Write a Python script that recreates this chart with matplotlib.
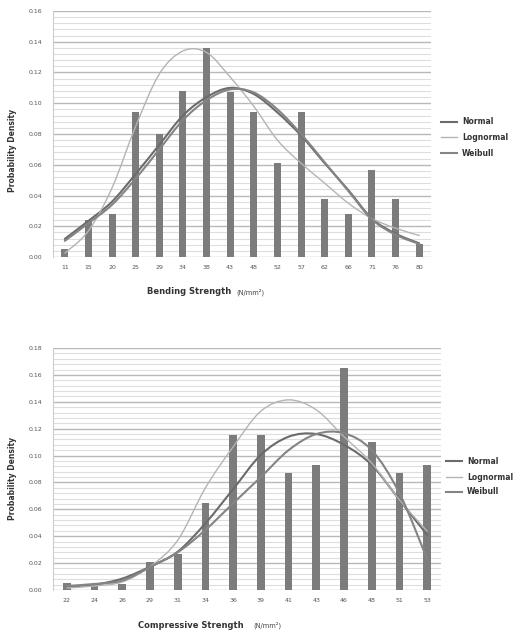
import matplotlib
matplotlib.use("Agg")
import matplotlib.pyplot as plt
from matplotlib.path import Path
from matplotlib.patches import PathPatch
from matplotlib.lines import Line2D
from matplotlib.ticker import MultipleLocator
import numpy as np

# ---------------- data ----------------
bend_cats = ["11", "15", "20", "25", "29", "34", "38", "43", "48", "52", "57", "62", "66", "71", "76", "80"]
bend_obs = [0.0055, 0.024, 0.028, 0.094, 0.080, 0.108, 0.136, 0.1075, 0.094, 0.061, 0.094, 0.0375, 0.028, 0.0565, 0.0375, 0.0087]
bend_normal = [0.0118, 0.0235, 0.036, 0.054, 0.073, 0.092, 0.104, 0.110, 0.106, 0.094, 0.079, 0.061, 0.0435, 0.025, 0.0152, 0.0089]
bend_lognormal = [0.0025, 0.017, 0.045, 0.085, 0.119, 0.134, 0.133, 0.117, 0.098, 0.076, 0.061, 0.048, 0.035, 0.025, 0.0187, 0.014]
bend_weibull = [0.0105, 0.022, 0.034, 0.051, 0.070, 0.089, 0.102, 0.109, 0.107, 0.096, 0.080, 0.0615, 0.043, 0.0245, 0.0145, 0.0085]

comp_cats = ["22", "24", "26", "29", "31", "34", "36", "39", "41", "43", "46", "48", "51", "53"]
comp_obs = [0.005, 0.0045, 0.0043, 0.021, 0.0265, 0.065, 0.1155, 0.1155, 0.0873, 0.093, 0.165, 0.110, 0.0873, 0.093]
comp_normal = [0.0025, 0.004, 0.0085, 0.0174, 0.0285, 0.0496, 0.075, 0.1005, 0.114, 0.116, 0.108, 0.093, 0.067, 0.041]
comp_lognormal = [0.0015, 0.003, 0.006, 0.0174, 0.037, 0.076, 0.1065, 0.133, 0.1414, 0.134, 0.114, 0.0943, 0.067, 0.0437]
comp_weibull = [0.003, 0.0045, 0.007, 0.017, 0.028, 0.0447, 0.0645, 0.084, 0.104, 0.116, 0.1166, 0.104, 0.072, 0.023]

series_names = ["Normal", "Lognormal", "Weibull"]
series_colors = ["#6b6b6b", "#b4b4b4", "#848484"]
series_widths = [1.5, 1.0, 1.5]
bar_color = "#7c7c7c"

def smooth_path(ys):
    xs = np.arange(len(ys), dtype=float)
    ys = np.asarray(ys, dtype=float)
    pts = np.column_stack([xs, ys])
    verts = [pts[0]]
    codes = [Path.MOVETO]
    n = len(pts)
    for i in range(n - 1):
        p0 = pts[i - 1] if i > 0 else pts[i]
        p1 = pts[i]
        p2 = pts[i + 1]
        p3 = pts[i + 2] if i + 2 < n else pts[i + 1]
        c1 = p1 + (p2 - p0) / 6.0
        c2 = p2 - (p3 - p1) / 6.0
        verts += [c1, c2, p2]
        codes += [Path.CURVE4] * 3
    return Path(verts, codes)

def draw_panel(ax, cats, obs, curves, ymax, bar_w):
    x = np.arange(len(cats))
    ax.set_xlim(-0.5, len(cats) - 0.5)
    ax.set_ylim(0, ymax)
    ax.yaxis.set_major_locator(MultipleLocator(0.02))
    ax.yaxis.set_minor_locator(MultipleLocator(0.004))
    ax.grid(which="major", axis="y", color="#b8b8b8", linewidth=1.0)
    ax.grid(which="minor", axis="y", color="#dedede", linewidth=0.8)
    ax.set_axisbelow(True)
    ax.bar(x, obs, width=bar_w, color=bar_color, zorder=2)
    for ys, col, lw in zip(curves, series_colors, series_widths):
        ax.add_patch(PathPatch(smooth_path(ys), facecolor="none", edgecolor=col,
                               linewidth=lw, zorder=3, capstyle="round"))
    ax.set_xticks(x)
    ax.set_xticklabels(cats)
    ax.yaxis.set_major_formatter(matplotlib.ticker.FormatStrFormatter("%.2f"))
    ax.tick_params(axis="both", which="both", length=0, labelsize=4.5, colors="#555555", pad=6)
    ax.tick_params(axis="y", pad=8)
    for s in ["top", "right", "bottom"]:
        ax.spines[s].set_visible(False)
    ax.spines["left"].set_color("#cccccc")
    ax.spines["left"].set_linewidth(0.8)

fig = plt.figure(figsize=(5.17, 6.35), dpi=100)
W, H = 517, 635

def fx(px):
    return px / W

def fy(py):
    return 1 - py / H

ax1 = fig.add_axes([fx(53), fy(257), fx(431) - fx(53), fy(11) - fy(257)])
draw_panel(ax1, bend_cats, bend_obs, [bend_normal, bend_lognormal, bend_weibull], 0.16, 0.3)

ax2 = fig.add_axes([fx(53), fy(590), fx(441) - fx(53), fy(348) - fy(590)])
draw_panel(ax2, comp_cats, comp_obs, [comp_normal, comp_lognormal, comp_weibull], 0.18, 0.28)

# axis labels
fig.text(fx(13), fy(150), "Probability Density", rotation=90, ha="center", va="center",
         fontsize=5.5, fontweight="bold", color="#333333")
fig.text(fx(13), fy(478), "Probability Density", rotation=90, ha="center", va="center",
         fontsize=5.5, fontweight="bold", color="#333333")

t1 = fig.text(fx(147), fy(292), "Bending Strength ", ha="left", va="center",
              fontsize=6, fontweight="bold", color="#333333")
fig.text(fx(236), fy(292), "(N/mm²)", ha="left", va="center", fontsize=4.8, color="#444444")
fig.text(fx(138), fy(625), "Compressive Strength ", ha="left", va="center",
         fontsize=6, fontweight="bold", color="#333333")
fig.text(fx(253), fy(625), "(N/mm²)", ha="left", va="center", fontsize=4.8, color="#444444")

# legends
def legend(x0, ys):
    for name, col, lw, yy in zip(series_names, series_colors, series_widths, ys):
        fig.add_artist(Line2D([fx(x0), fx(x0 + 16)], [fy(yy), fy(yy)], color=col, linewidth=lw))
        fig.text(fx(x0 + 21), fy(yy), name, ha="left", va="center", fontsize=5.5,
                 fontweight="bold", color="#333333")

legend(441, [122, 137, 153])
legend(446, [461, 477, 492])

fig.savefig("out.png", dpi=100, facecolor="white")
